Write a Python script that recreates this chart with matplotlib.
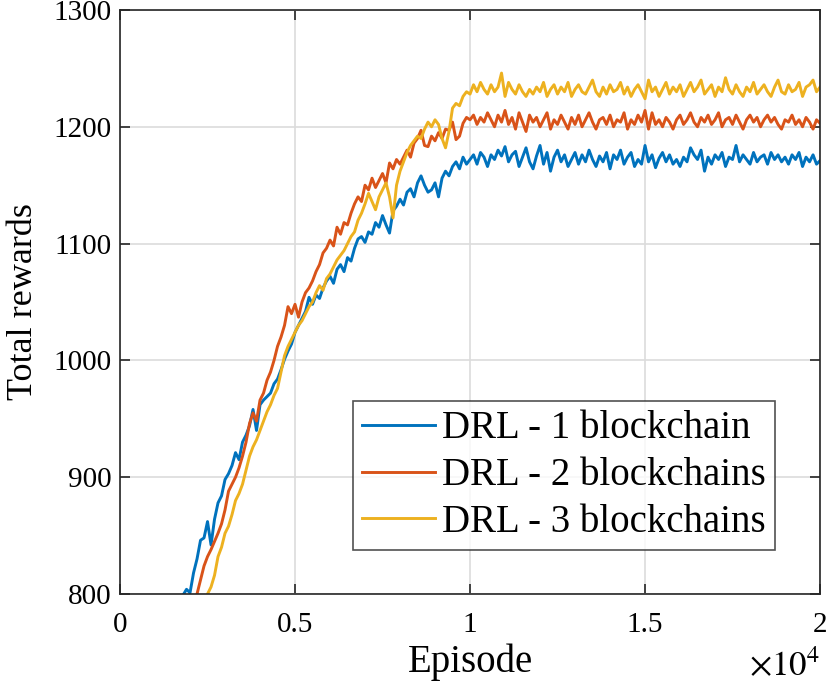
import numpy as np
import matplotlib
matplotlib.use('Agg')
import matplotlib.pyplot as plt
from matplotlib.ticker import FuncFormatter, MultipleLocator

# rewards, one value per 100 episodes starting at episode 1500
start_ep = 1500
step_ep = 100

reward_1bc = [
    770, 782, 790, 799, 804, 801, 818, 830, 846, 848,
    862, 842, 864, 878, 884, 898, 903, 910, 921, 915,
    930, 936, 944, 958, 940, 962, 966, 969, 972, 980,
    984, 992, 1001, 1008, 1014, 1024, 1030, 1036, 1042, 1054,
    1048, 1056, 1053, 1062, 1068, 1072, 1066, 1078, 1082, 1076,
    1088, 1085, 1096, 1104, 1106, 1101, 1110, 1108, 1118, 1114,
    1124, 1116, 1109, 1128, 1132, 1138, 1133, 1144, 1147, 1140,
    1152, 1158, 1150, 1144, 1146, 1152, 1140, 1156, 1162, 1158,
    1166, 1170, 1164, 1174, 1168, 1172, 1176, 1168, 1178, 1174,
    1166, 1176, 1172, 1180, 1175, 1183, 1170, 1176, 1179, 1166,
    1174, 1182, 1170, 1164, 1175, 1184, 1168, 1178, 1162, 1174,
    1180, 1170, 1176, 1166, 1172, 1178, 1168, 1176, 1170, 1180,
    1172, 1166, 1175, 1170, 1178, 1164, 1176, 1172, 1180, 1168,
    1174, 1178, 1166, 1172, 1168, 1184, 1170, 1176, 1165, 1173,
    1178, 1170, 1176, 1168, 1172, 1166, 1174, 1170, 1182, 1176,
    1172, 1180, 1162, 1174, 1168, 1176, 1172, 1178, 1166, 1174,
    1172, 1184, 1170, 1176, 1172, 1168, 1178, 1170, 1174, 1176,
    1168, 1178, 1172, 1176, 1170, 1174, 1168, 1176, 1172, 1178,
    1166, 1174, 1170, 1176, 1168, 1171,
]

reward_2bc = [
    745, 758, 768, 776, 784, 790, 795, 800, 812, 824,
    832, 838, 845, 852, 860, 872, 888, 894, 900, 908,
    918, 930, 946, 955, 948, 966, 972, 983, 990, 1000,
    1012, 1020, 1030, 1046, 1040, 1048, 1037, 1050, 1058, 1062,
    1068, 1076, 1082, 1092, 1096, 1103, 1098, 1114, 1108, 1118,
    1116, 1126, 1134, 1140, 1136, 1150, 1146, 1156, 1148, 1154,
    1160, 1152, 1169, 1164, 1172, 1168, 1174, 1180, 1174, 1186,
    1190, 1197, 1184, 1183, 1192, 1188, 1195, 1190, 1198, 1197,
    1204, 1189, 1192, 1203, 1208, 1206, 1210, 1202, 1208, 1204,
    1212, 1206, 1200, 1210, 1204, 1214, 1202, 1208, 1198, 1212,
    1204, 1196, 1210, 1204, 1208, 1200, 1206, 1212, 1198, 1206,
    1202, 1210, 1204, 1198, 1208, 1202, 1210, 1200, 1206, 1212,
    1204, 1198, 1206, 1208, 1202, 1210, 1200, 1206, 1204, 1212,
    1198, 1206, 1202, 1210, 1204, 1214, 1198, 1212, 1202, 1206,
    1200, 1208, 1204, 1198, 1206, 1210, 1202, 1206, 1212, 1204,
    1200, 1208, 1204, 1210, 1202, 1206, 1212, 1200, 1206, 1208,
    1202, 1210, 1204, 1198, 1206, 1210, 1204, 1208, 1200, 1206,
    1210, 1204, 1208, 1202, 1198, 1206, 1204, 1210, 1202, 1206,
    1200, 1208, 1204, 1198, 1206, 1203,
]

reward_3bc = [
    730, 742, 752, 762, 770, 776, 782, 788, 792, 796,
    800, 806, 816, 832, 840, 852, 858, 868, 880, 886,
    894, 906, 918, 926, 932, 940, 948, 956, 962, 970,
    976, 990, 1004, 1012, 1018, 1024, 1030, 1034, 1040, 1046,
    1050, 1058, 1064, 1060, 1070, 1074, 1080, 1086, 1090, 1094,
    1100, 1106, 1110, 1120, 1126, 1134, 1143, 1136, 1129, 1140,
    1146, 1152, 1140, 1122, 1150, 1162, 1170, 1178, 1184, 1188,
    1192, 1190, 1198, 1204, 1200, 1206, 1202, 1190, 1182, 1196,
    1216, 1220, 1218, 1226, 1230, 1228, 1236, 1230, 1238, 1232,
    1228, 1236, 1230, 1234, 1246, 1226, 1238, 1232, 1228, 1236,
    1230, 1226, 1232, 1228, 1234, 1230, 1238, 1226, 1232, 1236,
    1228, 1234, 1230, 1238, 1226, 1232, 1236, 1230, 1228, 1234,
    1240, 1230, 1226, 1234, 1228, 1236, 1230, 1232, 1238, 1228,
    1234, 1226, 1232, 1236, 1230, 1224, 1240, 1230, 1234, 1226,
    1232, 1238, 1228, 1234, 1230, 1236, 1226, 1232, 1238, 1230,
    1234, 1240, 1228, 1232, 1236, 1226, 1234, 1230, 1242, 1232,
    1228, 1236, 1230, 1226, 1234, 1230, 1238, 1228, 1232, 1236,
    1230, 1226, 1234, 1240, 1230, 1228, 1236, 1230, 1232, 1238,
    1226, 1234, 1236, 1240, 1230, 1234,
]

labels = ['DRL - 1 blockchain', 'DRL - 2 blockchains', 'DRL - 3 blockchains']
colors = ['#0072BD', '#D95319', '#EDB120']

plt.rcParams['font.family'] = ['Liberation Serif', 'DejaVu Serif']
plt.rcParams['mathtext.fontset'] = 'stix'

fig = plt.figure(figsize=(8.3, 6.89), dpi=100)
ax = fig.add_axes([0.1446, 0.1379, 0.8434, 0.8476])

for vals, lab, col in zip([reward_1bc, reward_2bc, reward_3bc], labels, colors):
    ep = start_ep + step_ep * np.arange(len(vals))
    ax.plot(ep, vals, color=col, lw=2.1, label=lab)

ax.set_xlim(0, 20000)
ax.set_ylim(800, 1300)
ax.xaxis.set_major_locator(MultipleLocator(5000))
ax.yaxis.set_major_locator(MultipleLocator(100))
ax.xaxis.set_major_formatter(FuncFormatter(lambda v, p: '%g' % (v / 1e4)))
ax.grid(True, color='#dcdcdc', lw=1.2)
ax.set_axisbelow(True)

dark = '#262626'
for s in ax.spines.values():
    s.set_color(dark)
    s.set_linewidth(1.2)
ax.tick_params(direction='in', top=True, right=True, length=7, width=1.2,
               colors=dark, labelsize=21)
ax.tick_params(axis='x', pad=13)
ax.tick_params(axis='y', pad=6)
for t in ax.get_xticklabels() + ax.get_yticklabels():
    t.set_color('black')

ax.set_xlabel('Episode', fontsize=28, labelpad=4)
ax.set_ylabel('Total rewards', fontsize=26, labelpad=10)
ax.text(1.0, -0.095, r'$\times 10^{4}$', transform=ax.transAxes, ha='right',
        va='top', fontsize=25)

leg = ax.legend(loc='lower right', bbox_to_anchor=(0.936, 0.075), fontsize=28,
                frameon=True, fancybox=False, borderaxespad=0, handlelength=1.88,
                handletextpad=0.18, borderpad=0.24, labelspacing=0.25)
leg.get_frame().set_edgecolor(dark)
leg.get_frame().set_linewidth(1.2)

fig.savefig('out.png', dpi=100)
